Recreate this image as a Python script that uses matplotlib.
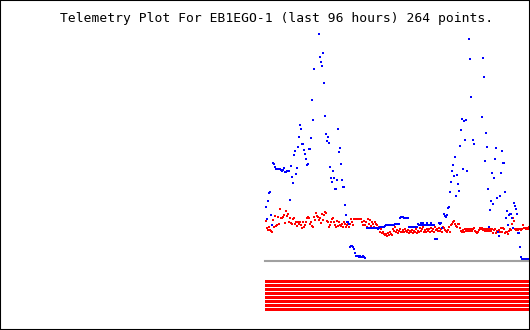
import numpy as np
import matplotlib as mpl
import matplotlib.pyplot as plt
from matplotlib.patches import Rectangle
mpl.use('Agg')

title = "Telemetry Plot For EB1EGO-1 (last 96 hours) 264 points."

# channel 1 (blue), one value per sample, None = no reading
blue_values = [
    54, 42, 60, 68, 69, 46, 36, 98, 97, 94,
    92, 92, 92, 92, 92, 91, 90, 91, 93, 89,
    89, 90, 90, 90, 61, 95, 84, 78, 106, 110,
    87, 93, 114, 124, 136, 132, 117, 117, 111, 107,
    102, 96, 97, 112, 112, 123, 161, 141, 192, None,
    None, None, None, 227, 204, 199, 195, 208, 178, 145,
    127, 120, 124, 118, 94, 83, 79, 90, 83, 72,
    72, 81, 132, 109, 113, 97, 81, 74, 74, 56,
    46, 39, 39, 37, 14, 15, 15, 14, 12, 8,
    5, 5, 5, 4, 5, 4, 4, 5, 4, 3,
    None, 33, 33, 33, 33, 33, 33, 33, 33, 33,
    33, 33, 32, 33, 34, 34, 34, 34, 34, 35,
    36, 36, 36, 36, 36, 36, 36, 36, 36, 37,
    37, 37, 37, 37, 43, 44, 44, 44, 43, 43,
    43, 43, 43, 34, 34, 34, 34, 34, 34, 34,
    34, 34, 37, 36, 36, 38, 36, 38, 36, 36,
    36, 38, 36, 36, 36, 38, 36, 36, 36, 22,
    22, 22, None, 38, 37, 38, 33, None, 47, 45,
    44, 46, 53, 54, 69, 79, 90, 96, 85, 104,
    65, 86, 77, 70, 115, 131, 142, 92, 140, 121,
    141, 90, None, 222, 202, 164, None, 121, 117, None,
    None, None, None, None, None, None, 144, 203, 184, 100,
    128, 114, 72, 34, 51, 60, 88, 57, 83, 102,
    113, 63, 29, 25, 65, 88, 110, 98, 98, 69,
    43, 50, 36, 46, 47, 47, 43, 33, 58, 55,
    52, 47, 28, 28, 14, 4, 2, 2, 2, 2,
    2, 2, 2, None, 108,
]

# channel 2 (red)
red_values = [
    40, 33, 31, 34, 31, 30, 29, 41, 34, 45,
    35, 36, 44, 37, 52, 43, 43, 44, 46, 38,
    50, 45, 47, 39, 43, 38, 37, 42, 43, 37,
    39, 35, 39, 37, 39, 36, 33, 39, 34, 36,
    39, 43, 44, 43, 37, 39, 35, 34, 44, 41,
    48, 45, 44, 41, 43, 38, 47, 41, 46, 49,
    48, 40, 39, 34, 36, 39, 42, 43, 39, 36,
    34, 40, 35, 39, 36, 35, 37, 34, 39, 37,
    34, 36, 38, 34, 37, 42, 39, 36, 42, 42,
    42, 42, 42, 42, 42, 42, 39, 36, 40, 36,
    39, 34, 42, 37, 41, 35, 39, 37, 34, 39,
    37, 36, 33, 34, 29, 32, 28, 29, 27, 26,
    27, 25, 28, 26, 29, 27, 26, 32, 30, 34,
    29, 31, 28, 30, 32, 29, 29, 31, 29, 32,
    30, 29, 31, 28, 30, 29, 31, 28, 30, 29,
    32, 28, 30, 29, 33, 30, 32, 34, 29, 31,
    29, 32, 30, 32, 29, 33, 30, 32, 29, 34,
    31, 32, 30, 33, 30, 32, 29, 34, 33, 31,
    30, 29, 31, 34, 29, 36, 37, 39, 40, 37,
    35, 34, 37, 37, 33, 30, 29, 31, 29, 32,
    30, 32, 30, 32, 30, 32, 30, 32, 33, 30,
    29, 28, 29, 31, 33, 32, 33, 31, 32, 30,
    32, 30, 32, 30, 32, 30, 32, 28, 31, 32,
    28, 30, 29, 31, 29, 33, 29, 33, 32, 28,
    29, 29, 27, 30, 32, 31, 37, 43, 40, 32,
    31, 32, 31, 32, 32, 31, 32, 36, 33, 33,
    32, 33, 32, 34, 33,
]

# digital bits, all set
bits = [1, 1, 1, 1, 1, 1, 1, 1]

blue = np.array([np.nan if v is None else v for v in blue_values], dtype=float)
red = np.array(red_values, dtype=float)
idx = np.arange(len(blue))
n = len(blue)

# 1 px wide, 2 px tall dot
dot = [(-0.5, -1), (0.5, -1), (0.5, 1), (-0.5, 1), (-0.5, -1)]

fig = plt.figure(figsize=(5.3, 3.3), dpi=100)

ax = fig.add_axes([265 / 530, 69 / 330, 265 / 530, 261 / 330])
ax.plot(idx, red, ls='none', marker=dot, color='#ff0000', ms=1.6, mew=0)
ax.plot(idx, blue, ls='none', marker=dot, color='#0000ff', ms=1.6, mew=0)
ax.axhline(0, color='#a0a0a0', lw=1.5, clip_on=False)
ax.set_xlim(-0.5, n - 0.5)
ax.set_ylim(0, 261)
ax.axis('off')

ax2 = fig.add_axes([265 / 530, 18.5 / 330, 265 / 530, 32 / 330])
ax2.barh(np.arange(len(bits)), [b * n for b in bits], left=-0.5,
         height=0.75, color='#ff0000')
ax2.set_xlim(-0.5, n - 0.5)
ax2.set_ylim(len(bits) - 0.5, -0.5)
ax2.axis('off')

fig.text(60 / 530, 1 - 22 / 330, title, family='DejaVu Sans Mono',
         fontsize=9.4, ha='left', va='baseline')

fig.patches.append(Rectangle((0, 0), 1, 1, transform=fig.transFigure,
                             fill=False, ec='black', lw=1.5))

fig.savefig('out.png', dpi=100)
plt.close(fig)
